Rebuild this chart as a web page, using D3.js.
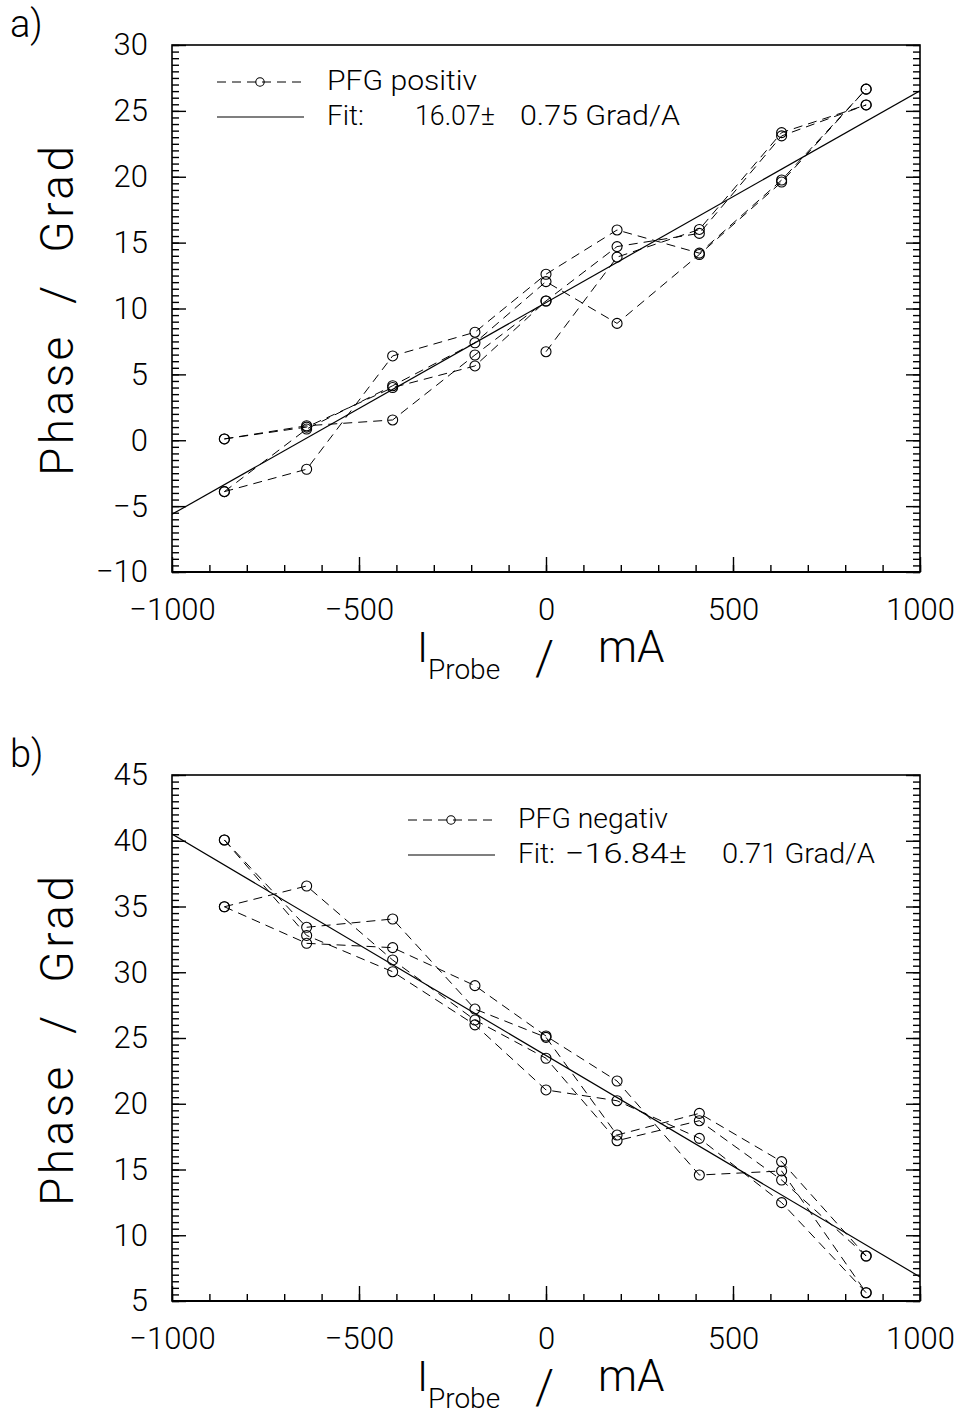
<!DOCTYPE html>
<html>
<head>
<meta charset="utf-8">
<script src="https://cdn.jsdelivr.net/npm/d3@7"></script>
<style>
  body { margin: 0; background: #fff; }
  svg text { font-family: Roboto, "Liberation Sans", sans-serif; font-weight: 300; fill: #000; }
  .tick text { font-size: 31px; }
  .tick line { stroke: #000; stroke-width: 1.4px; }
  .frame { fill: none; stroke: #000; stroke-width: 1.6px; }
  .meas { fill: none; stroke: #000; stroke-width: 1px; stroke-dasharray: 9,6; }
  .fit { fill: none; stroke: #000; stroke-width: 1.2px; }
  .pt { fill: none; stroke: #000; stroke-width: 1.1px; }
</style>
</head>
<body>
<svg id="chart" width="956" height="1416"></svg>
<script>
  // current settings in mA
  var currents = [-860, -640, -410, -190, 0, 190, 410, 630, 856];

  // panel a: PFG positiv, phase in Grad
  var posRun1 = [0.1, 1.1, 1.54, 6.47, 10.57, 14.7, 15.7, 23.1, 25.45];
  var posRun2 = [-3.9, -2.2, 6.4, 8.2, 12.6, 15.96, 14.2, 19.75, 26.65];
  var posRun3 = [-3.9, 0.85, 4.14, 7.4, 12.04, 8.87, 14.1, 19.6, 26.65];
  var posRun4 = [0.1, 1.0, 4.0, 5.64, 10.57, null, null, null, null];
  var posRun5 = [null, null, null, null, 6.72, 13.9, 16.0, 23.35, 25.45];

  // panel b: PFG negativ
  var negRun1 = [40.06, 33.42, 34.05, 27.2, 25.05, 17.62, 19.27, 15.6, 8.42];
  var negRun2 = [40.06, 32.8, 30.04, 26.0, 21.05, 20.23, 17.37, 12.48, 5.63];
  var negRun3 = [34.98, 36.56, 30.93, 26.37, 23.46, 17.19, 18.71, 14.2, 8.42];
  var negRun4 = [34.98, 32.2, 31.87, 28.98, 25.15, 21.73, 14.58, 14.89, 5.63];

  // linear fits (Grad/A, Grad at 0 mA)
  var fitPos = {slope: 16.07, err: 0.75, offset: 10.45};
  var fitNeg = {slope: -16.84, err: 0.71, offset: 23.67};

  var xTicks = [-1000, -500, 0, 500, 1000];
  var yTicksA = [-10, -5, 0, 5, 10, 15, 20, 25, 30];
  var yTicksB = [5, 10, 15, 20, 25, 30, 35, 40, 45];

  var svg = d3.select('#chart');
  var minus = (v) => String(v).replace('-', '\u2212');

  function panel(o) {
    var x = d3.scaleLinear().domain([-1000, 1000]).range([172, 920]);
    var y = d3.scaleLinear().domain(o.yDomain).range([o.bottom, o.top]);
    var g = svg.append('g');

    g.append('clipPath').attr('id', 'clip' + o.id)
      .append('rect').attr('x', 172).attr('y', o.top)
      .attr('width', 748).attr('height', o.bottom - o.top);

    // ticks, all pointing inward
    g.append('g').attr('transform', `translate(0,${o.bottom})`)
      .call(d3.axisBottom(x).tickValues(d3.range(-1000, 1001, 100)).tickSize(-7).tickFormat(''))
      .call((s) => s.select('.domain').remove());
    g.append('g').attr('transform', `translate(0,${o.bottom})`)
      .call(d3.axisBottom(x).tickValues(xTicks).tickSize(-15).tickPadding(26).tickFormat(minus))
      .call((s) => s.select('.domain').remove());

    var yMinor = d3.range(o.yDomain[0], o.yDomain[1] + 0.01, 0.5);
    [[d3.axisLeft, 172], [d3.axisRight, 920]].forEach(([ax, px]) => {
      g.append('g').attr('transform', `translate(${px},0)`)
        .call(ax(y).tickValues(yMinor).tickSize(-7).tickFormat(''))
        .call((s) => s.select('.domain').remove());
      g.append('g').attr('transform', `translate(${px},0)`)
        .call(ax(y).tickValues(o.yTicks).tickSize(-14).tickPadding(24)
          .tickFormat(px === 172 ? minus : ''))
        .call((s) => s.select('.domain').remove());
    });

    g.append('rect').attr('class', 'frame')
      .attr('x', 172).attr('y', o.top).attr('width', 748).attr('height', o.bottom - o.top);
    g.append('line').attr('x1', 172).attr('x2', 920).attr('y1', o.bottom).attr('y2', o.bottom)
      .attr('stroke', '#000').attr('stroke-width', 2.2);

    // fit line
    var fitLine = d3.line().x((d) => x(d)).y((d) => y(o.fit.offset + o.fit.slope * d / 1000));
    g.append('path').attr('class', 'fit').attr('clip-path', `url(#clip${o.id})`)
      .attr('d', fitLine([-1000, 1000]));

    // measured runs
    var runLine = d3.line().defined((d) => d != null)
      .x((d, i) => x(currents[i])).y((d) => y(d));
    o.runs.forEach((run) => {
      g.append('path').attr('class', 'meas').attr('d', runLine(run));
      g.selectAll(null).data(run.map((v, i) => [currents[i], v]).filter((d) => d[1] != null))
        .enter().append('circle').attr('class', 'pt')
        .attr('cx', (d) => x(d[0])).attr('cy', (d) => y(d[1])).attr('r', 5);
    });

    // legend
    var L = o.legend;
    g.append('line').attr('class', 'meas').attr('x1', L.x).attr('x2', L.x + 87)
      .attr('y1', L.y).attr('y2', L.y);
    g.append('circle').attr('class', 'pt').attr('cx', L.x + 43).attr('cy', L.y).attr('r', 4.2);
    g.append('text').attr('x', L.x + 110).attr('y', L.y + 8).attr('font-size', 28)
      .attr('textLength', 150).attr('lengthAdjust', 'spacingAndGlyphs').text(L.label);
    g.append('line').attr('class', 'fit').attr('x1', L.x).attr('x2', L.x + 87)
      .attr('y1', L.y + 35).attr('y2', L.y + 35);
    g.append('text').attr('x', L.x + 110).attr('y', L.y + 43).attr('font-size', 28).text('Fit:');
    g.append('text').attr('x', L.x + L.dx1).attr('y', L.y + 43).attr('font-size', 28)
      .attr('textLength', L.w1).attr('lengthAdjust', 'spacingAndGlyphs')
      .text(minus(o.fit.slope.toFixed(2)) + '\u00b1');
    g.append('text').attr('x', L.x + L.dx2).attr('y', L.y + 43).attr('font-size', 28)
      .attr('textLength', L.w2).attr('lengthAdjust', 'spacingAndGlyphs')
      .text(o.fit.err.toFixed(2) + ' Grad/A');

    // panel tag
    g.append('text').attr('x', 10).attr('y', o.top - 8).attr('font-size', 38)
      .attr('font-weight', 400).text(o.tag);

    // axis titles
    g.append('text').attr('transform', `translate(73,${o.yTitleMid}) rotate(-90)`)
      .attr('text-anchor', 'middle').attr('font-size', 46).attr('fill', '#333')
      .attr('textLength', 330).attr('lengthAdjust', 'spacing')
      .style('white-space', 'pre').text('Phase  /  Grad');

    var t = g.append('text').attr('y', o.bottom + 90).attr('fill', '#333');
    t.append('tspan').attr('x', 417).attr('font-size', 42).text('I');
    t.append('tspan').attr('x', 428).attr('dy', 17).attr('font-size', 28).text('Probe');
    t.append('tspan').attr('x', 535).attr('dy', -5).attr('font-size', 48).text('/');
    t.append('tspan').attr('x', 598).attr('dy', -12).attr('font-size', 44).text('mA');
  }

  panel({id: 'a', tag: 'a)', top: 45, bottom: 572, yDomain: [-10, 30], yTicks: yTicksA,
    runs: [posRun1, posRun2, posRun3, posRun4, posRun5], fit: fitPos, yTitleMid: 311,
    legend: {x: 217, y: 82, label: 'PFG positiv', dx1: 198, w1: 80, dx2: 303, w2: 160}});
  panel({id: 'b', tag: 'b)', top: 775, bottom: 1301, yDomain: [5, 45], yTicks: yTicksB,
    runs: [negRun1, negRun2, negRun3, negRun4], fit: fitNeg, yTitleMid: 1041,
    legend: {x: 408, y: 820, label: 'PFG negativ', dx1: 157, w1: 122, dx2: 314, w2: 153}});
</script>
</body>
</html>
